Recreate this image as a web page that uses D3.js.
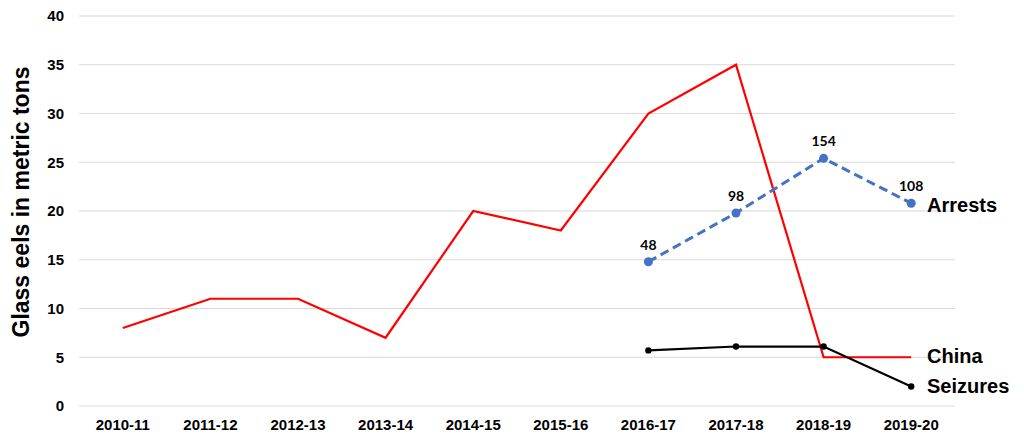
<!DOCTYPE html>
<html><head><meta charset="utf-8">
<script src="https://cdn.jsdelivr.net/npm/d3@7/dist/d3.min.js"></script>
<style>body{margin:0;background:#fff}svg{display:block}</style>
</head><body>
<svg id="c" width="1024" height="441"></svg>
<script>
const categories = ["2010-11","2011-12","2012-13","2013-14","2014-15","2015-16","2016-17","2017-18","2018-19","2019-20"];
const chinaValues = [8, 11, 11, 7, 20, 18, 30, 35, 5, 5];
const arrestCategories = ["2016-17","2017-18","2018-19","2019-20"];
const arrestValues = [48, 98, 154, 108];
const seizureCategories = ["2016-17","2017-18","2018-19","2019-20"];
const seizureValues = [5.7, 6.1, 6.1, 2.0];
const yTicks = [0,5,10,15,20,25,30,35,40];

const FONT = "Liberation Sans, Arial, sans-serif";
const svg = d3.select("#c");
const x = d3.scaleBand().domain(categories).range([79, 955]);
const cx = c => x(c) + x.bandwidth()/2;
const y = d3.scaleLinear().domain([0, 40]).range([406, 16]);
const y2 = d3.scaleLinear().domain([-100, 300]).range([406, 16]);

// gridlines
svg.append("g").selectAll("line").data(yTicks).join("line")
  .attr("x1", 79).attr("x2", 955)
  .attr("y1", d => y(d)).attr("y2", d => y(d))
  .attr("stroke", "#d9d9d9").attr("stroke-width", 1);

// y axis
const yAxis = svg.append("g").attr("transform", "translate(79,0)")
  .call(d3.axisLeft(y).tickValues(yTicks).tickSize(0).tickPadding(15));
yAxis.select(".domain").remove();
yAxis.attr("font-size", 15).attr("font-family", FONT);
yAxis.selectAll("text").attr("font-weight", "bold").attr("fill", "#000");

// x axis
const xAxis = svg.append("g").attr("transform", "translate(0,406)")
  .call(d3.axisBottom(x).tickSize(0).tickPadding(13));
xAxis.select(".domain").remove();
xAxis.attr("font-size", 15).attr("font-family", FONT);
xAxis.selectAll("text").attr("font-weight", "bold").attr("fill", "#000");

// y title
svg.append("text").attr("transform", "translate(29,202) rotate(-90)")
  .attr("text-anchor", "middle").attr("font-family", FONT)
  .attr("font-weight", "bold").attr("font-size", 23).text("Glass eels in metric tons");

// China line
svg.append("path").datum(chinaValues.map((v,i)=>[categories[i], v]))
  .attr("fill", "none").attr("stroke", "#ff0000").attr("stroke-width", 2.2)
  .attr("d", d3.line().x(d => cx(d[0])).y(d => y(d[1])));

// Seizures
const sz = seizureValues.map((v,i)=>[seizureCategories[i], v]);
svg.append("path").datum(sz).attr("fill","none").attr("stroke","#000").attr("stroke-width",2.2)
  .attr("d", d3.line().x(d => cx(d[0])).y(d => y(d[1])));
svg.append("g").selectAll("circle").data(sz).join("circle")
  .attr("cx", d => cx(d[0])).attr("cy", d => y(d[1])).attr("r", 3.2).attr("fill", "#000");

// Arrests
const ar = arrestValues.map((v,i)=>[arrestCategories[i], v]);
svg.append("path").datum(ar).attr("fill","none").attr("stroke","#4472c4").attr("stroke-width",3)
  .attr("stroke-dasharray","9,5")
  .attr("d", d3.line().x(d => cx(d[0])).y(d => y2(d[1])));
svg.append("g").selectAll("circle").data(ar).join("circle")
  .attr("cx", d => cx(d[0])).attr("cy", d => y2(d[1])).attr("r", 4.5).attr("fill", "#4472c4");
svg.append("g").selectAll("text").data(ar).join("text")
  .attr("x", d => cx(d[0])).attr("y", d => y2(d[1]) - 12)
  .attr("text-anchor", "middle").attr("font-family", "Lato, Open Sans, sans-serif")
  .attr("font-weight", "bold").attr("font-size", 14).text(d => d[1]);

// series labels
const lab = (t, yy) => svg.append("text").attr("x", 927).attr("y", yy)
  .attr("font-family", FONT).attr("font-weight", "bold")
  .attr("font-size", 20).text(t);
lab("Arrests", 212);
lab("China", 363);
lab("Seizures", 393);
</script>
</body></html>
